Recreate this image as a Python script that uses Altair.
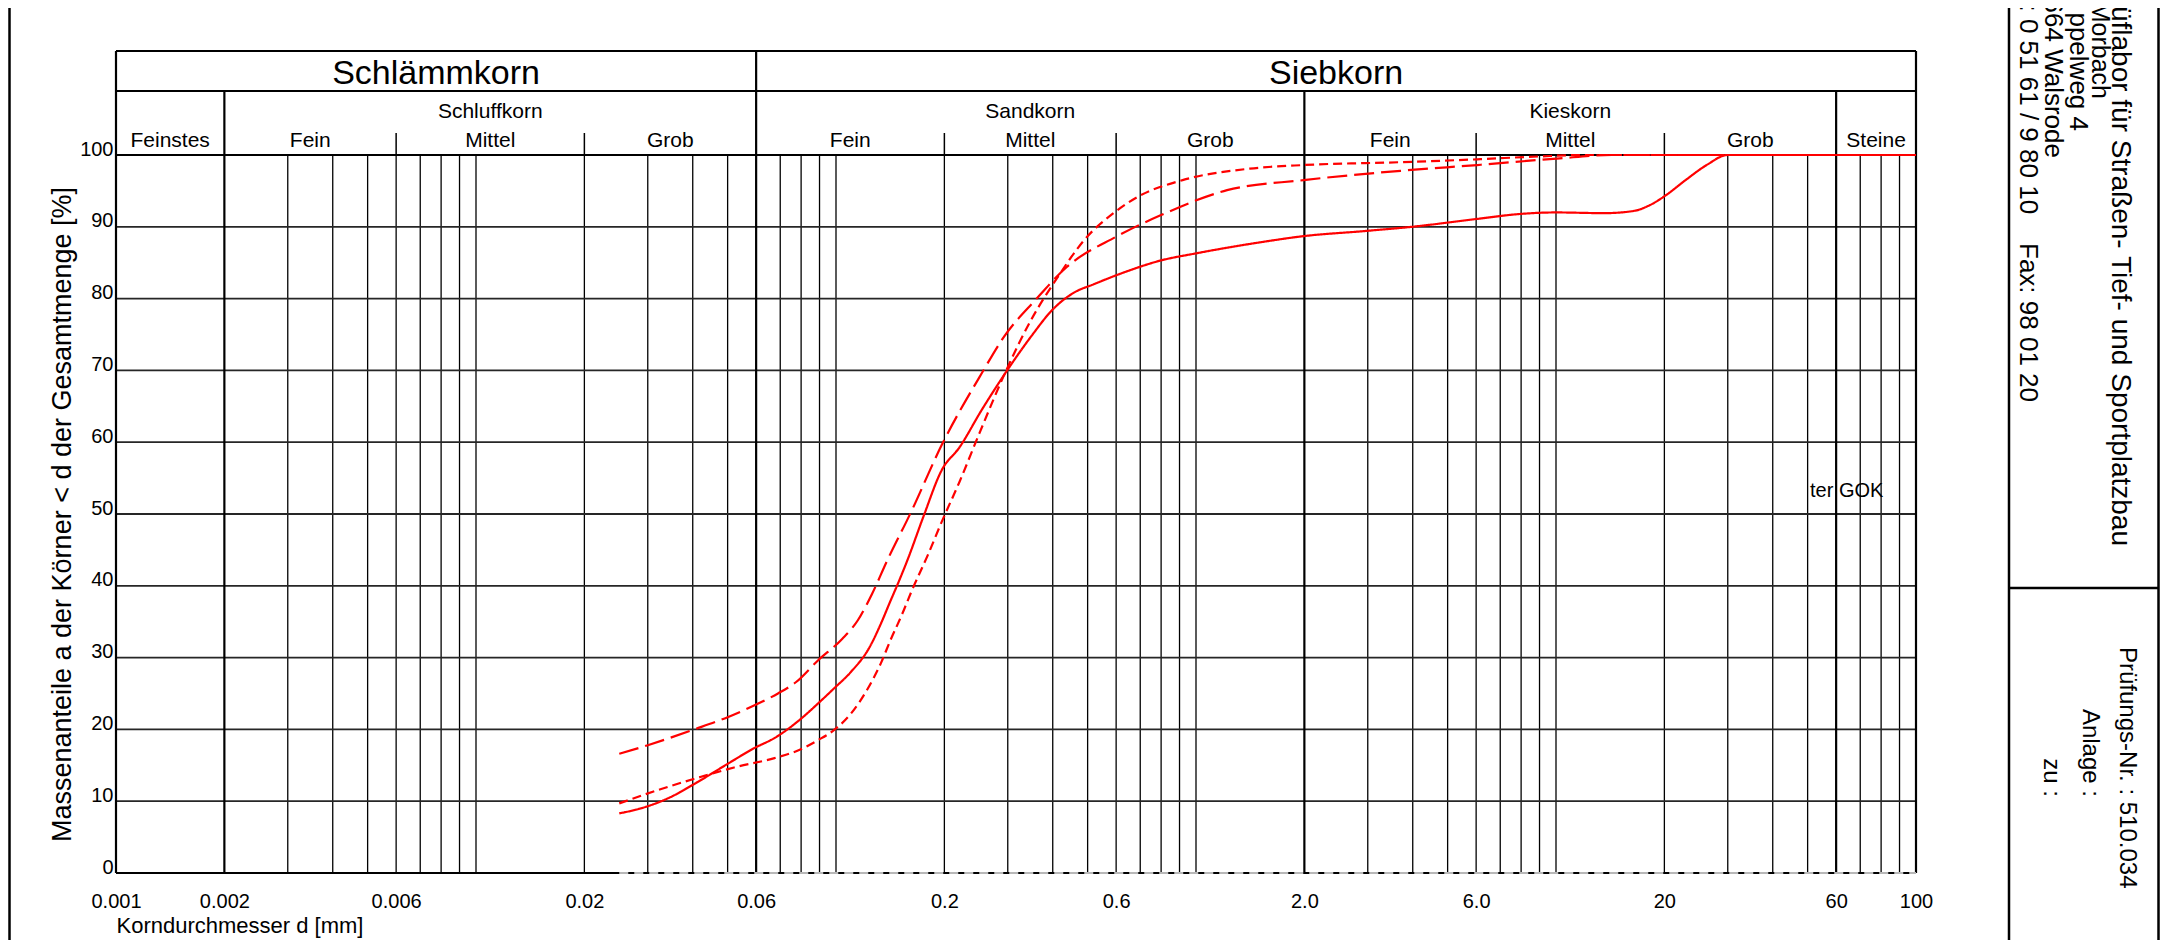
import altair as alt
import pandas as pd

FONT = "Liberation Sans"
RED = "#ff0000"

# ---------------- measured grading curves: grain size d [mm] / passing [%]
solid_d = [0.025, 0.030, 0.0348, 0.0404, 0.050, 0.0593, 0.0675, 0.080, 0.0891, 0.0987,
           0.110, 0.1238, 0.1332, 0.1406, 0.150, 0.158, 0.1754, 0.1966, 0.2204, 0.254,
           0.297, 0.348, 0.402, 0.457, 0.52, 0.635, 0.797, 1.0, 1.535, 1.99,
           2.93, 3.98, 6.04, 8.0, 10.0, 13.6, 16.4, 18.2, 20.2, 22.9,
           26.2, 30.0, 100.0]
solid_p = [8.3, 9.3, 10.6, 12.4, 15.2, 17.4, 18.8, 21.5, 23.6, 25.7,
           28.0, 31.4, 34.7, 37.5, 40.8, 43.6, 49.8, 56.1, 59.3, 64.5,
           69.8, 74.7, 78.6, 80.8, 82.0, 83.7, 85.3, 86.3, 87.9, 88.7,
           89.4, 90.0, 91.1, 91.8, 92.0, 91.9, 92.2, 93.0, 94.4, 96.5,
           98.6, 100.0, 100.0]

longdash_d = [0.025, 0.030, 0.0404, 0.050, 0.0608, 0.069, 0.0775, 0.0891, 0.104, 0.115,
              0.126, 0.139, 0.161, 0.1966, 0.254, 0.293, 0.358, 0.4375, 0.599, 0.797,
              1.22, 1.99, 3.7, 6.04, 10.05, 14.3, 100.0]
longdash_p = [16.6, 17.8, 20.0, 21.7, 23.6, 25.0, 26.6, 29.6, 32.6, 35.2,
              38.9, 43.6, 50.1, 59.6, 69.6, 74.7, 79.8, 84.4, 88.6, 91.6,
              95.1, 96.5, 97.8, 98.6, 99.5, 100.0, 100.0]

shortdash_d = [0.025, 0.0327, 0.0422, 0.0521, 0.0675, 0.0787, 0.0891, 0.0987, 0.110, 0.1226,
               0.1332, 0.1416, 0.1528, 0.162, 0.180, 0.1966, 0.2204, 0.25, 0.297, 0.348,
               0.413, 0.49, 0.59, 0.69, 0.918, 1.41, 1.99, 3.7, 6.04, 9.0,
               12.0, 100.0]
shortdash_p = [9.7, 11.7, 13.4, 14.7, 16.0, 17.1, 18.5, 19.9, 22.2, 25.7,
               29.2, 32.4, 36.1, 39.2, 44.3, 48.9, 54.5, 61.2, 70.0, 77.0,
               83.0, 88.2, 91.9, 94.2, 96.5, 98.1, 98.6, 99.0, 99.4, 99.8,
               100.0, 100.0]

zero_d = [0.025, 100.0]
zero_p = [0.0, 0.0]

# ---------------- axis ticks / classification
x_tick_values = [0.001, 0.002, 0.006, 0.02, 0.06, 0.2, 0.6, 2.0, 6.0, 20.0, 60.0, 100.0]
x_tick_labels = ["0.001", "0.002", "0.006", "0.02", "0.06", "0.2", "0.6", "2.0", "6.0", "20", "60", "100"]
y_tick_values = [0, 10, 20, 30, 40, 50, 60, 70, 80, 90, 100]
grid_decades = [0.001, 0.01, 0.1, 1.0, 10.0]
grid_mantissas = [1, 2, 3, 4, 5, 6, 7, 8, 9]

main_labels = ["Schlämmkorn", "Siebkorn"]
main_bounds = [0.001, 0.06, 100.0]
group_labels = ["Schluffkorn", "Sandkorn", "Kieskorn"]
group_bounds = [0.002, 0.06, 2.0, 60.0]
sub_labels = ["Feinstes", "Fein", "Mittel", "Grob", "Fein", "Mittel", "Grob",
              "Fein", "Mittel", "Grob", "Steine"]
sub_bounds = [0.001, 0.002, 0.006, 0.02, 0.06, 0.2, 0.6, 2.0, 6.0, 20.0, 60.0, 100.0]
full_header_lines = [0.001, 0.06, 100.0]
row2_lines = [0.002, 2.0, 60.0]
short_ticks = [0.006, 0.02, 0.2, 0.6, 6.0, 20.0]

W, H = 1800, 718
xs = alt.Scale(type="log", domain=[0.001, 100], nice=False)
ys = alt.Scale(domain=[0, 100], nice=False, zero=True)
one = pd.DataFrame({"k": [0]})


def gmean(a, b):
    return (a * b) ** 0.5


def centers(bounds):
    return [gmean(bounds[i], bounds[i + 1]) for i in range(len(bounds) - 1)]


vals_js = "[" + ",".join(repr(float(v)) for v in x_tick_values) + "]"
labs_js = "[" + ",".join("'" + s + "'" for s in x_tick_labels) + "]"
label_expr = labs_js + "[indexof(" + vals_js + ", datum.value)]"

x_axis = alt.Axis(values=x_tick_values, labelExpr=label_expr, labelFont=FONT, labelFontSize=20,
                  labelColor="black", labelPadding=34, labelBaseline="alphabetic",
                  labelFlush=False, labelOverlap=False, ticks=False, tickSize=0,
                  domain=False, grid=False, title="Korndurchmesser d [mm]", titleFont=FONT,
                  titleFontSize=22, titleFontWeight="normal", titleColor="black",
                  titleAlign="left", titleAnchor="start", titleX=0, titleY=59,
                  titleBaseline="alphabetic")
y_axis = alt.Axis(values=y_tick_values, labelFont=FONT, labelFontSize=20, labelColor="black",
                  labelAlign="right", labelBaseline="alphabetic", labelPadding=3,
                  ticks=False, tickSize=0, domain=False, grid=False,
                  title="Massenanteile a der Körner < d der Gesamtmenge [%]", titleFont=FONT,
                  titleFontSize=27, titleFontWeight="normal", titleColor="black",
                  titleAngle=270, titleX=-54, titleY=H / 2, titleAlign="center",
                  titleBaseline="middle")


def X(field):
    return alt.X(field, scale=xs, axis=x_axis)


def Y(field):
    return alt.Y(field, scale=ys, axis=y_axis)


layers = []

# vertical minor grid
grid_x = [round(m * d, 6) for d in grid_decades for m in grid_mantissas] + [100.0]
minor_all = [v for v in grid_x if v not in main_bounds + group_bounds]
layers.append(alt.Chart(pd.DataFrame({"d": minor_all})).mark_rule(color="black", strokeWidth=1.3)
              .encode(x=X("d:Q")))

# horizontal grid
layers.append(alt.Chart(pd.DataFrame({"p": y_tick_values[1:-1]})).mark_rule(color="#262626", strokeWidth=1.8)
              .encode(y=Y("p:Q")))
layers.append(alt.Chart(pd.DataFrame({"p": [0, 100]})).mark_rule(color="black", strokeWidth=2.2)
              .encode(y=Y("p:Q")))

# classification boundary lines extending into header
layers.append(alt.Chart(pd.DataFrame({"d": full_header_lines})).mark_rule(color="black", strokeWidth=2.2)
              .encode(x=X("d:Q"), y=alt.value(-104), y2=alt.value(H)))
layers.append(alt.Chart(pd.DataFrame({"d": row2_lines})).mark_rule(color="black", strokeWidth=2.2)
              .encode(x=X("d:Q"), y=alt.value(-64), y2=alt.value(H)))
layers.append(alt.Chart(pd.DataFrame({"d": short_ticks})).mark_rule(color="black", strokeWidth=1.5)
              .encode(x=X("d:Q"), y=alt.value(-22), y2=alt.value(0)))
# header horizontal lines
hdr = pd.DataFrame({"a": [main_bounds[0]], "b": [main_bounds[-1]]})
for yy in (-104, -64):
    layers.append(alt.Chart(hdr).mark_rule(color="black", strokeWidth=2.2)
                  .encode(x=X("a:Q"), x2="b:Q", y=alt.value(yy)))


# header texts
def header_text(labels, bounds, size, ypix):
    df = pd.DataFrame({"label": labels, "c": centers(bounds)})
    return (alt.Chart(df).mark_text(font=FONT, fontSize=size, color="black", align="center",
                                    baseline="alphabetic")
            .encode(x=X("c:Q"), y=alt.value(ypix), text="label:N"))


layers.append(header_text(main_labels, main_bounds, 34, -71))
layers.append(header_text(group_labels, group_bounds, 21, -37))
layers.append(header_text(sub_labels, sub_bounds, 21, -8))


# curves
def curve(d, p, dash, color=RED, width=2.2):
    df = pd.DataFrame({"d": d, "p": p})
    return (alt.Chart(df).mark_line(color=color, strokeWidth=width, strokeDash=dash,
                                    interpolate="monotone")
            .encode(x=X("d:Q"), y=Y("p:Q")))


layers.append(curve(zero_d, zero_p, [9, 6], color="#b8b8b8", width=2))
layers.append(curve(solid_d, solid_p, [1, 0]))
layers.append(curve(longdash_d, longdash_p, [20, 7]))
layers.append(curve(shortdash_d, shortdash_p, [9, 5]))

# annotation
layers.append(alt.Chart(one).mark_text(font=FONT, fontSize=20, color="black", align="left",
                                       baseline="alphabetic", text="ter GOK")
              .encode(x=alt.value(1694), y=alt.value(342)))

# page frame and title block
for xx in (-106.5, 1893, 2042.5):
    layers.append(alt.Chart(one).mark_rule(color="black", strokeWidth=2.5)
                  .encode(x=alt.value(xx), y=alt.value(-160), y2=alt.value(820)))
layers.append(alt.Chart(one).mark_rule(color="black", strokeWidth=2.5)
              .encode(x=alt.value(1893), x2=alt.value(2042.5), y=alt.value(433)))


def vtext(txt, x, y, size, align):
    return (alt.Chart(one).mark_text(font=FONT, fontSize=size, color="black", angle=90,
                                     align=align, baseline="alphabetic", text=txt)
            .encode(x=alt.value(x), y=alt.value(y)))


layers.append(vtext("Prüflabor für Straßen- Tief- und Sportplatzbau", 1996, 391, 28, "right"))
layers.append(vtext("Morbach", 1976, -56, 25, "right"))
layers.append(vtext("ppelweg 4", 1954, -24, 26, "right"))
layers.append(vtext("29664 Walsrode", 1929, 3, 26, "right"))
layers.append(vtext("Tel.: 0 51 61 / 9 80 10\u00a0\u00a0\u00a0 Fax: 98 01 20", 1904, 247, 26, "right"))
layers.append(vtext("Prüfungs-Nr. : 510.034", 2004, 492, 24, "left"))
layers.append(vtext("Anlage :", 1967, 642, 24, "right"))
layers.append(vtext("zu :", 1928, 642, 24, "right"))

chart = (alt.layer(*layers)
         .properties(width=W, height=H, autosize=alt.AutoSizeParams(type="none"),
                     padding={"left": 108, "top": 147, "right": 244, "bottom": 67},
                     background="white")
         .configure_view(stroke="transparent"))

chart.save("out.html", embed_options={"renderer": "svg", "actions": False})
